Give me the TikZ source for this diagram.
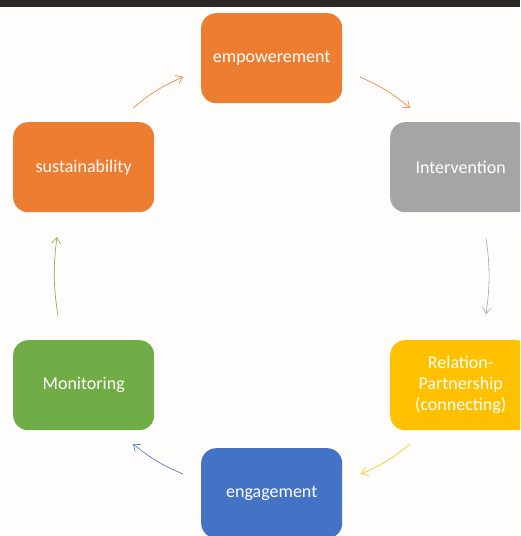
\documentclass[tikz,border=0pt]{standalone}
\usepackage{fontspec}
\setmainfont{Carlito}
\usetikzlibrary{arrows.meta}
\definecolor{corange}{HTML}{ED7D31}
\definecolor{cgrey}{HTML}{A5A5A5}
\definecolor{cyellow}{HTML}{FFC000}
\definecolor{cgreen}{HTML}{70AD47}
\definecolor{cblue}{HTML}{4472C4}
\definecolor{cbar}{HTML}{2B2621}
\definecolor{cbg}{HTML}{FFFDFC}
\tikzset{
  box/.style={rounded corners=15pt, minimum width=141pt, minimum height=90pt, inner sep=0pt, text=white, font=\fontsize{18}{21}\selectfont, align=center, anchor=north west},
  conn/.style={line width=0.6pt, -{Straight Barb[length=6pt,width=9pt,line width=0.6pt]}}
}
\begin{document}
\begin{tikzpicture}[x=1pt,y=-1pt]
\useasboundingbox (0,0) rectangle (520,536);
\clip (0,0) rectangle (520,536);
\fill[cbg] (0,0) rectangle (520,536);
\fill[cbar] (0,0) rectangle (520,7);
\node[box, fill=corange] (emp) at (201,13) {empowerement};
\node[box, fill=cgrey] (int) at (390,122) {Intervention};
\node[box, fill=corange] (sus) at (13,122) {sustainability};
\node[box, fill=cyellow] (rel) at (390,340) {Relation-\\Partnership\\(connecting)};
\node[box, fill=cgreen] (mon) at (13,340) {Monitoring};
\node[box, fill=cblue] (eng) at (201,448) {engagement};
\coordinate (a1s) at (133,108); \coordinate (a1e) at (183,77);
\coordinate (a2s) at (360,77); \coordinate (a2e) at (410,108);
\coordinate (a3s) at (486,238); \coordinate (a3e) at (486,314);
\coordinate (a4s) at (410,444); \coordinate (a4e) at (361,474);
\coordinate (a5s) at (183,474); \coordinate (a5e) at (133,444);
\coordinate (a6s) at (58,316); \coordinate (a6e) at (57,237);
\draw[conn, corange] (a1s) to[bend left=8] (a1e);
\draw[conn, corange] (a2s) to[bend left=8] (a2e);
\draw[conn, cgrey] (a3s) to[bend left=8] (a3e);
\draw[conn, cyellow] (a4s) to[bend left=8] (a4e);
\draw[conn, cblue] (a5s) to[bend left=8] (a5e);
\draw[conn, cgreen] (a6s) to[bend left=8] (a6e);
\end{tikzpicture}
\end{document}
